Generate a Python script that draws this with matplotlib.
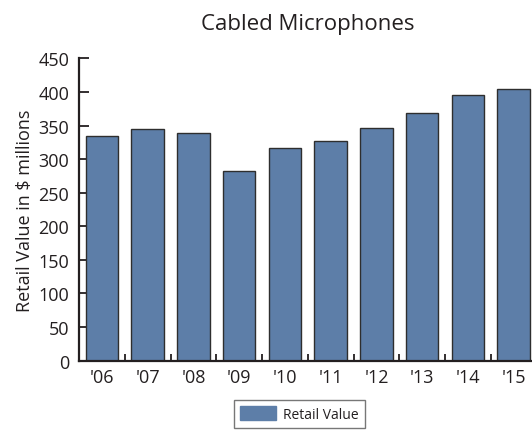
import matplotlib
matplotlib.use("Agg")
import matplotlib.pyplot as plt
import numpy as np

plt.rcParams['font.family'] = ['Open Sans', 'DejaVu Sans']

years = ["'06", "'07", "'08", "'09", "'10", "'11", "'12", "'13", "'14", "'15"]
retail_value = [334, 345, 339, 282, 316, 327, 347, 369, 395, 405]
y_ticks = [0, 50, 100, 150, 200, 250, 300, 350, 400, 450]

bar_color = '#5d7ea8'
edge_color = '#2e2e2e'
text_color = '#231f20'

fig = plt.figure(figsize=(5.32, 4.31), dpi=100)
ax = fig.add_axes([0.1485, 0.1608, 0.860, 0.7016])

x = np.arange(len(years))
bars = ax.bar(x, retail_value, width=0.71, color=bar_color, edgecolor=edge_color,
              linewidth=1.0, label='Retail Value', zorder=2)

ax.set_xlim(-0.5, len(years) - 0.5)
ax.set_ylim(0, 450)
ax.set_yticks(y_ticks)
ax.set_xticks(x)
ax.set_xticklabels(years)
ax.set_xticks(x[:-1] + 0.5, minor=True)

for side in ('top', 'right'):
    ax.spines[side].set_visible(False)
for side in ('left', 'bottom'):
    ax.spines[side].set_linewidth(1.6)
    ax.spines[side].set_color(text_color)
    ax.spines[side].set_zorder(3)

ax.tick_params(axis='y', direction='in', length=7.5, width=1.3, colors=text_color,
               labelsize=13, pad=7)
ax.tick_params(axis='x', which='major', length=0, labelsize=13, pad=5,
               colors=text_color)
ax.tick_params(axis='x', which='minor', direction='in', length=5, width=1.3,
               colors=text_color)

ax.set_ylabel('Retail Value in $ millions', fontsize=13, color=text_color, labelpad=3)
ax.set_title('Cabled Microphones', fontsize=16, color=text_color, pad=21)

leg = fig.legend(handles=[bars], labels=['Retail Value'], loc='lower left',
                 bbox_to_anchor=(0.44, 0.004), fontsize=10, frameon=True,
                 fancybox=False, edgecolor='#555555', handlelength=2.6,
                 handleheight=1.15, borderpad=0.45, handletextpad=0.45,
                 borderaxespad=0)
leg.get_frame().set_linewidth(1.0)
for h in leg.legend_handles:
    h.set_edgecolor(bar_color)
for t in leg.get_texts():
    t.set_color(text_color)

fig.savefig('out.png', dpi=100)
